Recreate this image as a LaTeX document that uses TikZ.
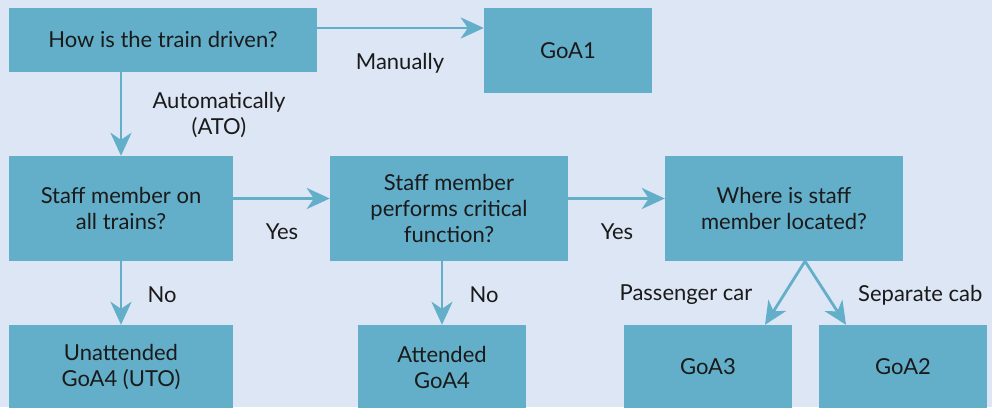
\documentclass[tikz,border=0pt]{standalone}
\usepackage{fontspec}
\setmainfont{Lato}
\usetikzlibrary{arrows.meta}
\definecolor{bgc}{RGB}{221,230,244}
\definecolor{boxc}{RGB}{99,175,202}
\definecolor{txtc}{RGB}{26,26,26}
\tikzset{
  box/.style={rectangle, fill=boxc, draw=none, inner sep=0pt, align=center, text=txtc,
    font=\fontsize{22}{26}\selectfont},
  lbl/.style={inner sep=0pt, text=txtc, font=\fontsize{22}{26}\selectfont, align=center},
  conn/.style={draw=boxc, line width=2.8pt, -{Stealth[length=23pt,width=21pt,inset=7pt]}}
}
\begin{document}
\begin{tikzpicture}[x=1pt,y=-1pt]
\useasboundingbox (0,0) rectangle (992,407);
\clip (0,0) rectangle (992,407);
\fill[bgc] (0,0) rectangle (992,407);
% nodes
\node[box, minimum width=308pt, minimum height=64pt] (A) at (163,40) {\raisebox{2pt}{How is the train driven?}};
\node[box, minimum width=168pt, minimum height=85pt] (G1) at (568,50.5) {GoA1};
\node[box, minimum width=224pt, minimum height=105pt] (B) at (121,208.5) {Staff member on\\all trains?};
\node[box, minimum width=238pt, minimum height=105pt] (C) at (449,208.5) {Staff member\\performs critical\\function?};
\node[box, minimum width=238pt, minimum height=105pt] (D) at (784,208.5) {Where is staff\\member located?};
\node[box, minimum width=224pt, minimum height=84pt] (U) at (121,367) {Unattended\\GoA4 (UTO)};
\node[box, minimum width=168pt, minimum height=84pt] (T) at (442,367) {Attended\\GoA4};
\node[box, minimum width=168pt, minimum height=84pt] (G3) at (708,367) {GoA3};
\node[box, minimum width=168pt, minimum height=84pt] (G2) at (903,367) {GoA2};
% labels
\node[lbl] (lman) at (400,63) {Manually};
\node[lbl] (lauto) at (219,115) {Automatically\\(ATO)};
\node[lbl] (ly1) at (282,232) {Yes};
\node[lbl] (ly2) at (617,232) {Yes};
\node[lbl] (ln1) at (162,295) {No};
\node[lbl] (ln2) at (484,295) {No};
\node[lbl] (lpc) at (686,295) {Passenger car};
\node[lbl, anchor=west] (lsc) at (858,295) {Separate cab};
% connectors
\coordinate (Dsplit) at ([xshift=21pt]D.south);
\draw[conn] ([yshift=12pt]A.east) -- ([yshift=12pt]A.east -| G1.west);
\draw[conn] (B.north |- A.south) -- (B.north);
\draw[conn] ([yshift=10pt]B.east) -- ([yshift=10pt]C.west);
\draw[conn] ([yshift=10pt]C.east) -- ([yshift=10pt]D.west);
\draw[conn] (B.south) -- (U.north);
\draw[conn] (T.north |- C.south) -- (T.north);
\draw[conn] (Dsplit) -- ([xshift=57pt]G3.north);
\draw[conn] (Dsplit) -- ([xshift=-57pt]G2.north);
\end{tikzpicture}
\end{document}
